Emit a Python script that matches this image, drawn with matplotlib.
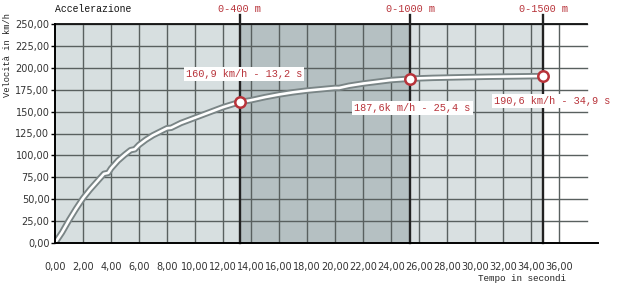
import matplotlib
matplotlib.use("Agg")
import matplotlib.pyplot as plt
import matplotlib.transforms as mtransforms

# curve (time in s, speed in km/h)
tempo = [0, 0.5, 1, 1.5, 2, 2.5, 3, 3.5, 3.8, 4, 4.5, 5, 5.4, 5.7, 6, 6.5, 7,
         7.5, 8, 8.3, 9, 10, 11, 12, 13.2, 14, 15, 16, 17, 18, 19, 20, 20.3,
         21, 22, 23, 24, 25.4, 27, 29, 31, 33, 34.9]
velocita = [0, 12, 26, 39, 51, 61, 70, 79, 80, 85, 94, 101, 106, 107, 112,
            118, 123, 127, 131, 131.5, 137, 143, 149, 155, 160.9, 163, 166.5,
            169.5, 172, 174, 175.5, 177, 177, 179.5, 182, 184, 186, 187.6,
            188.5, 189.2, 189.8, 190.2, 190.6]

# the three marked points
punti_t = [13.2, 25.4, 34.9]
punti_v = [160.9, 187.6, 190.6]
punti_testo = ["160,9 km/h - 13,2 s", "187,6k m/h - 25,4 s", "190,6 km/h - 34,9 s"]
distanze = ["0-400 m", "0-1000 m", "0-1500 m"]

x_ticks = list(range(0, 37, 2))
y_ticks = list(range(0, 251, 25))

rosso = "#b8333a"
mono = "Liberation Mono"

fig = plt.figure(figsize=(6.3, 3.06), dpi=100)
ax = fig.add_axes([55 / 630, 1 - 243 / 306, 543 / 630, 219 / 306])
ax.set_xlim(0, 38.8)
ax.set_ylim(0, 250)

# background bands
ax.axvspan(0, punti_t[0], color="#d7dfe0", zorder=0, lw=0)
ax.axvspan(punti_t[0], punti_t[1], color="#b5c0c2", zorder=0, lw=0)
ax.axvspan(punti_t[1], punti_t[2], color="#d9e0e1", zorder=0, lw=0)

# grid
for xv in x_ticks[1:]:
    ax.axvline(xv, color="#59605f", lw=1.0, zorder=1)
for yv in y_ticks[1:]:
    ax.axhline(yv, xmax=38 / 38.8, color="#59605f", lw=1.0, zorder=1,
               clip_on=False)
ax.axhline(250, xmax=38 / 38.8, color="#111111", lw=1.3, zorder=2,
           clip_on=False)

# distance markers
trans = mtransforms.blended_transform_factory(ax.transData, ax.transAxes)
for t, lab in zip(punti_t, distanze):
    ax.plot([t, t], [0, 1.04], transform=trans, color="#222222", lw=1.7,
            zorder=3, clip_on=False)
    ax.text(t, 1.068, lab, transform=trans, ha="center", va="center",
            color=rosso, fontsize=7.3, family=mono)

# curve: dark outline with white core
ax.plot(tempo, velocita, color="#7a8586", lw=4.6, zorder=4,
        solid_capstyle="round", solid_joinstyle="round")
ax.plot(tempo, velocita, color="white", lw=1.9, zorder=5,
        solid_capstyle="round", solid_joinstyle="round")
ax.plot(punti_t, punti_v, "o", ms=7.5, mfc="white", mec=rosso, mew=1.8,
        zorder=6, clip_on=False)

# value labels
pos_lab = [(9.35, 193), (21.4, 154), (31.4, 162)]
for (lx, ly), txt in zip(pos_lab, punti_testo):
    ax.text(lx, ly, txt, ha="left", va="center", color=rosso, fontsize=7.4,
            family=mono, zorder=7,
            bbox=dict(facecolor="white", edgecolor="none", pad=1.5))

# axes styling
for s in ["top", "right"]:
    ax.spines[s].set_visible(False)
ax.spines["left"].set_linewidth(1.4)
ax.spines["bottom"].set_linewidth(1.4)
ax.spines["left"].set_zorder(8)
ax.spines["bottom"].set_zorder(8)

ax.set_xticks(x_ticks)
ax.set_xticklabels([f"{v:.2f}".replace(".", ",") for v in x_ticks])
ax.set_yticks(y_ticks)
ax.set_yticklabels([f"{v:.2f}".replace(".", ",") for v in y_ticks])
ax.tick_params(axis="x", length=0, pad=14, labelsize=7, labelcolor="#333333")
ax.tick_params(axis="y", length=3, width=1, pad=1, labelsize=7,
               labelcolor="#333333")

ax.text(0, 1.068, "Accelerazione", transform=ax.transAxes, ha="left",
        va="center", fontsize=7, family=mono, color="#111111")
ax.text(-0.087, 0.86, "Velocità in km/h", transform=ax.transAxes,
        rotation=90, ha="center", va="center", fontsize=6.3, family=mono,
        color="#222222")
ax.text(0.941, -0.164, "Tempo in secondi", transform=ax.transAxes,
        ha="right", va="center", fontsize=6.7, family=mono, color="#222222")

fig.savefig("out.png", dpi=100)
